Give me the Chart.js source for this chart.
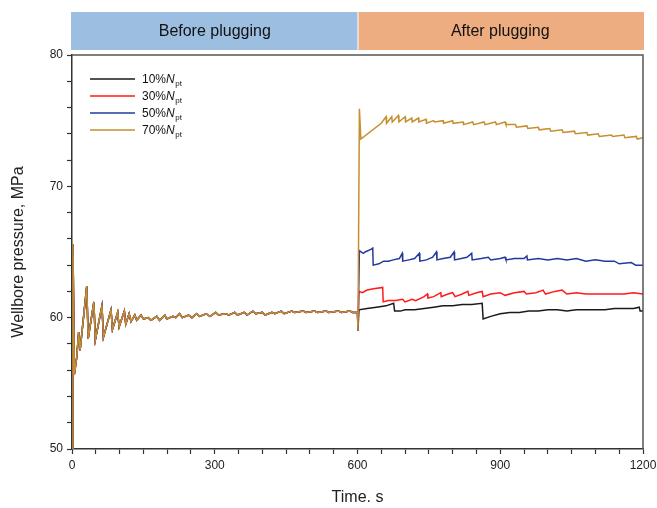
<!DOCTYPE html>
<html>
<head>
<meta charset="utf-8">
<script src="https://cdn.jsdelivr.net/npm/chart.js@4.4.1/dist/chart.umd.min.js"></script>
<style>
  html, body { margin: 0; padding: 0; background: #fff; }
  #wrap { width: 657px; height: 508px; position: relative; }
</style>
</head>
<body>
<div id="wrap"><canvas id="pressurechart" width="657" height="508"></canvas></div>
<script>
// shared curve before plugging (same for all cases), [time s, pressure MPa]
var before = [[0,50],[2,65.6],[5,55.7],[10,57.0],[14,58.9],[17,57.5],[31,62.4],[34,58.4],[46,61.2],[49,58.3],
  [63,60.9],[66,58.5],[82,60.6],[85,59.1],[96,60.4],[99,59.3],[110,60.5],[113,59.5],[120,60.3],[124,59.7],
  [132,60.2],[136,59.8],[145,60.2],[150,59.9],[160,60.0],[166,59.8],[178,60.1],[184,59.8],[195,60.2],[199,59.9],
  [212,60.1],[218,60.0],[226,60.3],[232,60.0],[245,60.2],[252,60.0],[262,60.3],[268,60.1],[282,60.3],[290,60.1],
  [302,60.4],[308,60.2],[322,60.3],[330,60.2],[342,60.4],[348,60.2],[362,60.4],[368,60.2],[380,60.5],[386,60.3],
  [400,60.4],[406,60.2],[420,60.4],[426,60.3],[440,60.5],[446,60.3],[462,60.5],[468,60.4],[486,60.5],[492,60.4],
  [510,60.5],[516,60.4],[534,60.5],[540,60.4],[560,60.5],[566,60.4],[584,60.5],[590,60.4],[600,60.4]];

// after plugging
var after10 = [[601,59.0],[603,60.6],[620,60.7],[640,60.8],[660,60.9],[676,61.1],[678,60.5],[690,60.5],[700,60.6],
  [720,60.6],[740,60.7],[760,60.8],[780,60.9],[800,60.9],[820,61.0],[840,61.0],[862,61.1],[864,59.9],[880,60.1],
  [900,60.3],[920,60.4],[940,60.4],[960,60.5],[980,60.5],[1000,60.6],[1020,60.6],[1040,60.5],[1060,60.6],[1080,60.6],
  [1100,60.6],[1120,60.6],[1140,60.7],[1160,60.7],[1180,60.7],[1192,60.8],[1194,60.5],[1200,60.5]];
var after30 = [[601,59.0],[603,62.0],[610,61.9],[620,62.1],[634,62.2],[653,62.3],[654,61.2],[665,61.3],[680,61.3],
  [695,61.4],[700,61.2],[715,61.4],[722,61.3],[740,61.6],[747,61.8],[748,61.5],[760,61.6],[775,61.9],[776,61.6],
  [790,61.8],[800,61.9],[805,61.6],[820,61.8],[832,62.0],[834,61.7],[850,61.9],[862,62.0],[864,61.6],[880,61.8],
  [900,61.9],[910,61.7],[930,61.9],[950,62.0],[955,61.8],[975,61.9],[990,62.1],[995,61.8],[1015,62.0],[1030,62.1],
  [1040,61.8],[1060,61.9],[1080,61.8],[1100,61.8],[1120,61.8],[1140,61.8],[1160,61.8],[1180,61.9],[1200,61.8]];
var after50 = [[601,59.0],[604,65.1],[612,64.9],[616,65.0],[628,65.2],[632,65.3],[633,64.0],[645,64.1],[655,64.3],
  [665,64.3],[675,64.4],[688,64.5],[694,64.9],[695,64.3],[708,64.4],[720,64.5],[730,64.9],[731,64.3],[745,64.4],
  [758,64.6],[766,65.0],[767,64.4],[780,64.5],[795,64.6],[803,65.0],[804,64.4],[818,64.5],[830,64.6],[840,64.9],
  [841,64.4],[860,64.5],[875,64.6],[880,64.4],[900,64.5],[910,64.6],[912,64.4],[930,64.5],[950,64.5],[956,64.7],
  [957,64.4],[980,64.5],[1000,64.4],[1020,64.5],[1040,64.4],[1060,64.5],[1080,64.3],[1100,64.4],[1120,64.3],
  [1140,64.3],[1150,64.1],[1175,64.2],[1185,64.0],[1200,64.0]];
var after70 = [[601,59.0],[604,75.9],[607,73.6],[650,74.8],[660,75.3],[661,74.8],[672,75.3],[673,74.9],[686,75.4],
  [687,74.9],[700,75.3],[701,74.9],[714,75.2],[715,74.9],[728,75.2],[729,74.9],[744,75.1],[745,74.8],[760,75.0],
  [762,74.9],[780,75.0],[781,74.8],[800,75.0],[801,74.8],[822,74.9],[823,74.7],[842,74.9],[844,74.7],[866,74.9],
  [868,74.7],[890,74.9],[892,74.7],[910,74.9],[912,74.7],[932,74.7],[934,74.5],[956,74.6],[958,74.4],[980,74.5],
  [982,74.3],[1004,74.4],[1006,74.2],[1030,74.3],[1032,74.1],[1056,74.2],[1058,74.0],[1082,74.1],[1084,73.9],
  [1106,74.0],[1108,73.8],[1134,73.9],[1136,73.8],[1160,73.9],[1162,73.7],[1186,73.8],[1188,73.6],[1200,73.7]];

var caseLabels = ['10%', '30%', '50%', '70%'];
var caseColors = ['#1a1a1a', '#ff1a1a', '#23399a', '#c48f2c'];
var xTickLabels = [0, 300, 600, 900, 1200];
var yTickLabels = [50, 60, 70, 80];
var phaseLabels = ['Before plugging', 'After plugging'];
var phaseColors = ['#9cbfe1', '#edad80'];

function toXY(arr) {
    return arr.map(function(p){ return {x: p[0], y: p[1]}; });
}

var afterArr = [after10, after30, after50, after70];
var datasets = [];
for (var i = 0; i < 4; i++) {
    datasets.push({
        label: caseLabels[i],
        data: toXY(before.concat(afterArr[i])),
        borderColor: caseColors[i],
        borderWidth: 1.5,
        pointRadius: 0,
        tension: 0,
        fill: false,
        order: 3 - i   // 70% drawn on top
    });
}

// phase bands, frame and legend
var extras = {
    id: 'extras',
    afterDraw: function(chart) {
        var ctx = chart.ctx;
        var xs = chart.scales.x;
        var a = chart.chartArea;
        var x0 = xs.getPixelForValue(0), x1 = xs.getPixelForValue(600), x2 = xs.getPixelForValue(1200);
        ctx.save();
        ctx.fillStyle = phaseColors[0];
        ctx.fillRect(x0 - 1, 12, x1 - x0 + 1, 38);
        ctx.fillStyle = phaseColors[1];
        ctx.fillRect(x1 + 1, 12, x2 - x1, 38);
        ctx.fillStyle = '#111';
        ctx.font = '16px Arial, "Liberation Sans", sans-serif';
        ctx.textAlign = 'center';
        ctx.textBaseline = 'middle';
        ctx.fillText(phaseLabels[0], (x0 + x1) / 2, 32);
        ctx.fillText(phaseLabels[1], (x1 + x2) / 2, 32);

        // top and right frame
        ctx.strokeStyle = '#555';
        ctx.lineWidth = 1.5;
        ctx.beginPath();
        ctx.moveTo(a.left, a.top);
        ctx.lineTo(a.right, a.top);
        ctx.lineTo(a.right, a.bottom);
        ctx.stroke();

        // legend
        ctx.textAlign = 'left';
        ctx.textBaseline = 'alphabetic';
        for (var i = 0; i < 4; i++) {
            var y = 79 + i * 17;
            ctx.strokeStyle = caseColors[i];
            ctx.lineWidth = 1.5;
            ctx.beginPath();
            ctx.moveTo(90, y);
            ctx.lineTo(135, y);
            ctx.stroke();
            ctx.fillStyle = '#111';
            ctx.font = '12px Arial, "Liberation Sans", sans-serif';
            ctx.fillText(caseLabels[i], 142, y + 4);
            var w = ctx.measureText(caseLabels[i]).width;
            ctx.font = 'italic 12px Arial, "Liberation Sans", sans-serif';
            ctx.fillText('N', 142 + w, y + 4);
            var wn = ctx.measureText('N').width;
            ctx.font = '8px Arial, "Liberation Sans", sans-serif';
            ctx.fillText('pt', 142 + w + wn + 0.5, y + 7);
        }
        ctx.restore();
    }
};

Chart.defaults.font.family = 'Arial, "Liberation Sans", sans-serif';
Chart.defaults.color = '#222';

var ctx = document.getElementById('pressurechart').getContext('2d');
var chart = new Chart(ctx, {
    type: 'line',
    data: { datasets: datasets },
    options: {
        responsive: false,
        animation: false,
        layout: { padding: { top: 55, right: 14, left: 0, bottom: 0 } },
        plugins: { legend: { display: false }, tooltip: { enabled: false } },
        scales: {
            x: {
                type: 'linear',
                min: 0, max: 1200,
                afterFit: function(s) { s.height = 59; s.paddingLeft = 0; s.paddingRight = 0; },
                grid: { drawOnChartArea: false, tickLength: 5, color: '#333', tickWidth: 1.2 },
                border: { color: '#333', width: 1.5 },
                ticks: {
                    stepSize: 50, autoSkip: false, maxRotation: 0, padding: 4,
                    font: { size: 12 }, color: '#222',
                    callback: function(v) { return xTickLabels.indexOf(v) >= 0 ? String(v) : ''; }
                },
                title: { display: true, text: 'Time. s', font: { size: 16 }, color: '#222', padding: { top: 0, bottom: 1 } }
            },
            y: {
                min: 50, max: 80,
                afterFit: function(s) { s.width = 72; },
                grid: { drawOnChartArea: false, tickLength: 5, color: '#333', tickWidth: 1.2 },
                border: { color: '#333', width: 1.5 },
                ticks: {
                    stepSize: 2, autoSkip: false, padding: 4,
                    font: { size: 12 }, color: '#222',
                    callback: function(v) { return yTickLabels.indexOf(v) >= 0 ? String(v) : ''; }
                },
                title: { display: true, text: 'Wellbore pressure, MPa', font: { size: 16 }, color: '#222', padding: { top: 9, bottom: 0 } }
            }
        }
    },
    plugins: [extras]
});
</script>
</body>
</html>
